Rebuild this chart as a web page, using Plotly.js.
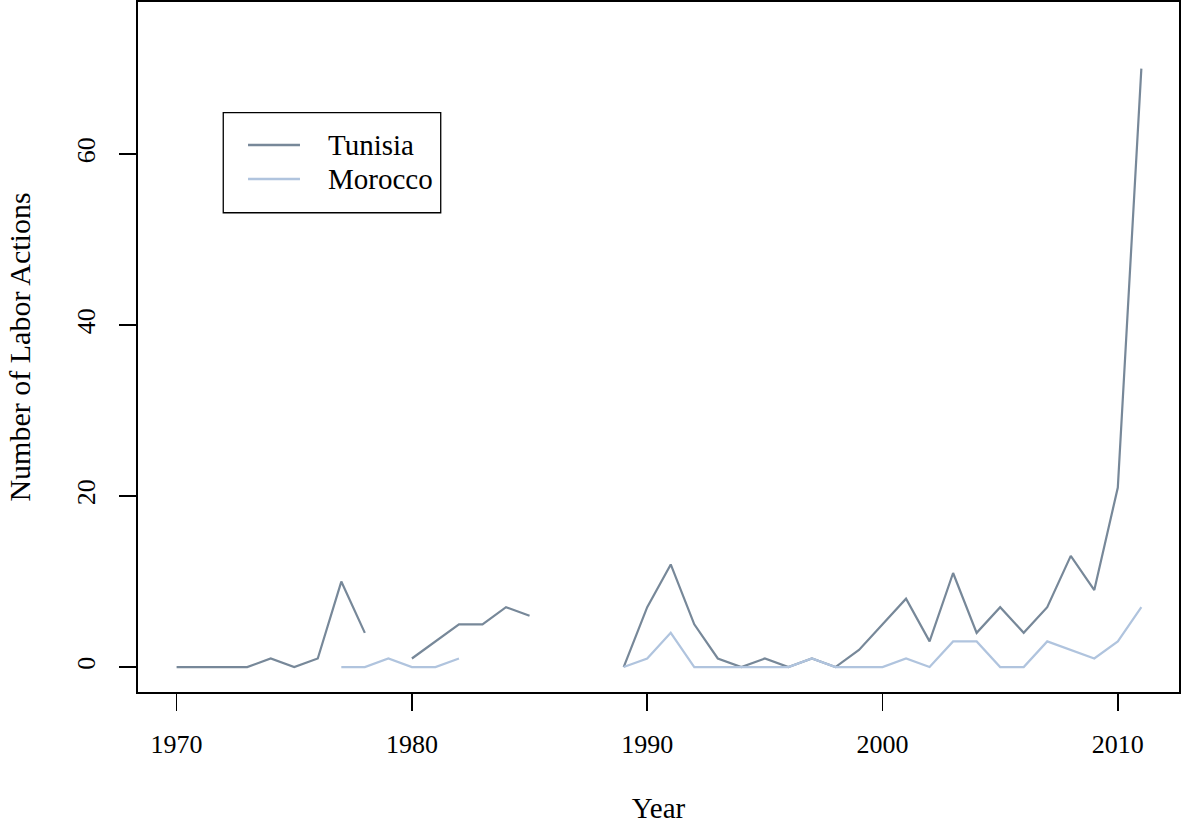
<!DOCTYPE html>
<html>
<head>
<meta charset="utf-8">
<script src="https://cdn.plot.ly/plotly-3.0.1.min.js"></script>
<style>
  html, body { margin: 0; padding: 0; background: #fff; }
  #chart { width: 1181px; height: 824px; }
</style>
</head>
<body>
<div id="chart"></div>
<script>
/* global Plotly */

const years = [1970, 1971, 1972, 1973, 1974, 1975, 1976, 1977, 1978, 1979,
    1980, 1981, 1982, 1983, 1984, 1985, 1986, 1987, 1988, 1989,
    1990, 1991, 1992, 1993, 1994, 1995, 1996, 1997, 1998, 1999,
    2000, 2001, 2002, 2003, 2004, 2005, 2006, 2007, 2008, 2009,
    2010, 2011];

// null = no observation for that year (line is broken there)
const tunisia = [0, 0, 0, 0, 1, 0, 1, 10, 4, null,
    1, 3, 5, 5, 7, 6, null, null, null, 0,
    7, 12, 5, 1, 0, 1, 0, 1, 0, 2,
    5, 8, 3, 11, 4, 7, 4, 7, 13, 9,
    21, 70];

const morocco = [null, null, null, null, null, null, null, 0, 0, 1,
    0, 0, 1, null, null, null, null, null, null, 0,
    1, 4, 0, 0, 0, 0, 0, 1, 0, 0,
    0, 1, 0, 3, 3, 0, 0, 3, 2, 1,
    3, 7];

const seriesNames = ['Tunisia', 'Morocco'];
const seriesColors = ['#778899', '#b0c4de'];
const xTicks = [1970, 1980, 1990, 2000, 2010];
const yTicks = [0, 20, 40, 60];

const FONT = '"Liberation Serif", "Times New Roman", serif';

function buildLine(values, idx) {
    return {
        x: years,
        y: values,
        name: seriesNames[idx],
        type: 'scatter',
        mode: 'lines',
        connectgaps: false,
        line: { color: seriesColors[idx], width: 2.2 },
        hoverinfo: 'x+y+name',
        showlegend: false
    };
}

function buildAxis(tickvals, extra) {
    return Object.assign({
        tickmode: 'array',
        tickvals,
        ticktext: tickvals.map(String),
        ticks: 'outside',
        ticklen: 17,
        tickwidth: 1.5,
        tickcolor: '#000',
        showline: true,
        mirror: true,
        linecolor: '#000',
        linewidth: 1.8,
        showgrid: false,
        zeroline: false,
        fixedrange: true,
        tickfont: { family: FONT, size: 26, color: '#000' }
    }, extra);
}

// R-style boxed legend, placed in paper coordinates (top-left of the plot)
const LEGEND_BOX = { x0: 0.0819, x1: 0.2908, y0: 0.6946, y1: 0.8396 };
const LEGEND_ROWS = [0.7928, 0.7435];
const LEGEND_LINE_X = [0.1057, 0.1556];
const LEGEND_TEXT_X = 0.1806;

function buildLegend() {
    const shapes = [{
        type: 'rect', xref: 'paper', yref: 'paper',
        x0: LEGEND_BOX.x0, x1: LEGEND_BOX.x1, y0: LEGEND_BOX.y0, y1: LEGEND_BOX.y1,
        line: { color: '#000', width: 1.3 }, fillcolor: '#fff'
    }];
    const annotations = [];
    seriesNames.forEach((name, i) => {
        shapes.push({
            type: 'line', xref: 'paper', yref: 'paper',
            x0: LEGEND_LINE_X[0], x1: LEGEND_LINE_X[1], y0: LEGEND_ROWS[i], y1: LEGEND_ROWS[i],
            line: { color: seriesColors[i], width: 2.6 }
        });
        annotations.push({
            xref: 'paper', yref: 'paper', x: LEGEND_TEXT_X, y: LEGEND_ROWS[i],
            xanchor: 'left', yanchor: 'middle', showarrow: false,
            text: name, font: { family: FONT, size: 29, color: '#000' }
        });
    });
    return { shapes, annotations };
}

const legend = buildLegend();

const layout = {
    width: 1181,
    height: 824,
    margin: { l: 138, r: 2, t: 2, b: 132 },
    paper_bgcolor: '#fff',
    plot_bgcolor: '#fff',
    font: { family: FONT, color: '#000' },
    showlegend: false,
    shapes: legend.shapes,
    annotations: legend.annotations,
    xaxis: buildAxis(xTicks, {
        range: [1968.36, 2012.6],
        ticklabelstandoff: 11,
        title: { text: 'Year', font: { family: FONT, size: 29, color: '#000' }, standoff: 46 }
    }),
    yaxis: buildAxis(yTicks, {
        range: [-2.92, 77.8],
        tickangle: -90,
        ticklabelstandoff: 14,
        title: { text: 'Number of Labor Actions', font: { family: FONT, size: 30, color: '#000' }, standoff: 32 }
    })
};

const traces = [buildLine(tunisia, 0), buildLine(morocco, 1)];

Plotly.newPlot('chart', traces, layout, {
    displaylogo: false,
    displayModeBar: false,
    staticPlot: true
});
</script>
</body>
</html>
